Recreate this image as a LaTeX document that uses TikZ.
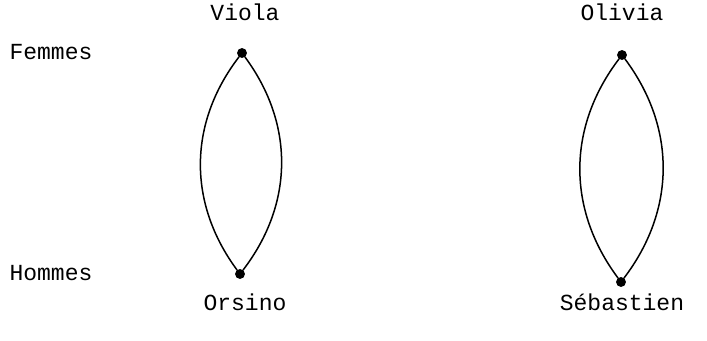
\documentclass[tikz,border=0pt]{standalone}
\usepackage{fontspec}
\setmonofont{Liberation Mono}
\usetikzlibrary{positioning}

\begin{document}
\begin{tikzpicture}[x=0.5pt, y=-0.5pt, every node/.style={font=\ttfamily\fontsize{11.5}{13}\selectfont}, pers/.style={circle, draw, fill=black, inner sep=0pt, minimum size=4.5pt}]
        \useasboundingbox (0,0) rectangle (707,341);

        % the two sexes
        \node (femmes) at (51,52) {Femmes};
        \node (hommes) at (51,273) {Hommes};

        % the four persons
        \node[pers] (viola) at (242,53) {};
        \node[pers] (orsino) at (240,274) {};
        \node[pers] (olivia) at (622,55) {};
        \node[pers] (sebastien) at (621,282) {};

        \node (violaname) at (245,12) {Viola};
        \node (orsinoname) at (245,302) {Orsino};
        \node (olivianame) at (622,12) {Olivia};
        \node (sebastienname) at (622,302) {Sébastien};

        % the couples
        \draw[line width=0.75pt] (viola) to[bend left=37] (orsino);
        \draw[line width=0.75pt] (viola) to[bend right=37] (orsino);
        \draw[line width=0.75pt] (olivia) to[bend left=37] (sebastien);
        \draw[line width=0.75pt] (olivia) to[bend right=37] (sebastien);
      \end{tikzpicture}
\end{document}
